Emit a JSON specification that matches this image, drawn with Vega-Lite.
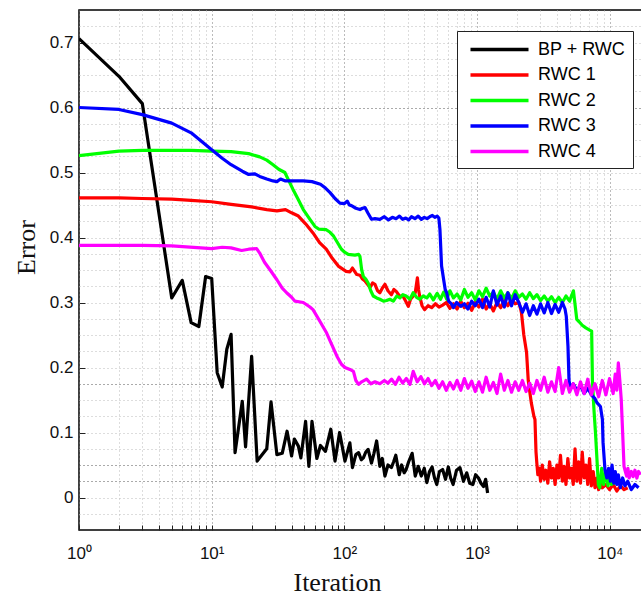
{
"$schema":"https://vega.github.io/schema/vega-lite/v6.json",
"width":563,"height":520,
"autosize":{"type":"none"},
"padding":{"left":79,"top":10,"right":0,"bottom":73},
"background":"white",
"config":{"view":{"stroke":"black","strokeWidth":1.5}},
"data":{"values":[
{"s":"BP + RWC","x":1,"y":0.706},{"s":"BP + RWC","x":2,"y":0.648},{"s":"BP + RWC","x":3,"y":0.606},{"s":"BP + RWC","x":5,"y":0.307},{"s":"BP + RWC","x":6,"y":0.334},{"s":"BP + RWC","x":7,"y":0.269},{"s":"BP + RWC","x":8,"y":0.263},{"s":"BP + RWC","x":9,"y":0.34},{"s":"BP + RWC","x":10,"y":0.337},{"s":"BP + RWC","x":11,"y":0.192},{"s":"BP + RWC","x":12,"y":0.17},{"s":"BP + RWC","x":13,"y":0.228},{"s":"BP + RWC","x":14,"y":0.251},{"s":"BP + RWC","x":15,"y":0.069},{"s":"BP + RWC","x":17,"y":0.148},{"s":"BP + RWC","x":18,"y":0.078},{"s":"BP + RWC","x":20,"y":0.217},{"s":"BP + RWC","x":22,"y":0.056},{"s":"BP + RWC","x":26,"y":0.075},{"s":"BP + RWC","x":28,"y":0.147},{"s":"BP + RWC","x":31,"y":0.066},{"s":"BP + RWC","x":34,"y":0.068},{"s":"BP + RWC","x":37,"y":0.102},{"s":"BP + RWC","x":40,"y":0.064},{"s":"BP + RWC","x":42,"y":0.09},{"s":"BP + RWC","x":45,"y":0.079},{"s":"BP + RWC","x":47,"y":0.061},{"s":"BP + RWC","x":51,"y":0.117},{"s":"BP + RWC","x":54,"y":0.048},{"s":"BP + RWC","x":57,"y":0.117},{"s":"BP + RWC","x":62,"y":0.06},{"s":"BP + RWC","x":66,"y":0.08},{"s":"BP + RWC","x":72,"y":0.071},{"s":"BP + RWC","x":79,"y":0.105},{"s":"BP + RWC","x":85,"y":0.056},{"s":"BP + RWC","x":92,"y":0.1},{"s":"BP + RWC","x":101,"y":0.056},{"s":"BP + RWC","x":110,"y":0.084},{"s":"BP + RWC","x":115,"y":0.046},{"s":"BP + RWC","x":122,"y":0.066},{"s":"BP + RWC","x":128,"y":0.069},{"s":"BP + RWC","x":134,"y":0.058},{"s":"BP + RWC","x":139,"y":0.061},{"s":"BP + RWC","x":145,"y":0.07},{"s":"BP + RWC","x":151,"y":0.074},{"s":"BP + RWC","x":160,"y":0.053},{"s":"BP + RWC","x":167,"y":0.068},{"s":"BP + RWC","x":175,"y":0.087},{"s":"BP + RWC","x":185,"y":0.048},{"s":"BP + RWC","x":193,"y":0.06},{"s":"BP + RWC","x":202,"y":0.033},{"s":"BP + RWC","x":213,"y":0.05},{"s":"BP + RWC","x":226,"y":0.046},{"s":"BP + RWC","x":235,"y":0.055},{"s":"BP + RWC","x":244,"y":0.065},{"s":"BP + RWC","x":259,"y":0.035},{"s":"BP + RWC","x":270,"y":0.05},{"s":"BP + RWC","x":282,"y":0.038},{"s":"BP + RWC","x":292,"y":0.043},{"s":"BP + RWC","x":305,"y":0.055},{"s":"BP + RWC","x":324,"y":0.068},{"s":"BP + RWC","x":342,"y":0.033},{"s":"BP + RWC","x":360,"y":0.048},{"s":"BP + RWC","x":380,"y":0.033},{"s":"BP + RWC","x":400,"y":0.045},{"s":"BP + RWC","x":418,"y":0.023},{"s":"BP + RWC","x":438,"y":0.04},{"s":"BP + RWC","x":458,"y":0.047},{"s":"BP + RWC","x":478,"y":0.03},{"s":"BP + RWC","x":497,"y":0.02},{"s":"BP + RWC","x":520,"y":0.04},{"s":"BP + RWC","x":550,"y":0.043},{"s":"BP + RWC","x":578,"y":0.028},{"s":"BP + RWC","x":607,"y":0.047},{"s":"BP + RWC","x":632,"y":0.03},{"s":"BP + RWC","x":660,"y":0.02},{"s":"BP + RWC","x":700,"y":0.042},{"s":"BP + RWC","x":743,"y":0.046},{"s":"BP + RWC","x":790,"y":0.025},{"s":"BP + RWC","x":835,"y":0.038},{"s":"BP + RWC","x":880,"y":0.022},{"s":"BP + RWC","x":930,"y":0.02},{"s":"BP + RWC","x":975,"y":0.035},{"s":"BP + RWC","x":1025,"y":0.03},{"s":"BP + RWC","x":1070,"y":0.022},{"s":"BP + RWC","x":1118,"y":0.017},{"s":"BP + RWC","x":1160,"y":0.028},{"s":"BP + RWC","x":1200,"y":0.007},
{"s":"RWC 1","x":1,"y":0.461},{"s":"RWC 1","x":2,"y":0.461},{"s":"RWC 1","x":3,"y":0.46},{"s":"RWC 1","x":5,"y":0.459},{"s":"RWC 1","x":7,"y":0.457},{"s":"RWC 1","x":10,"y":0.455},{"s":"RWC 1","x":14,"y":0.451},{"s":"RWC 1","x":20,"y":0.447},{"s":"RWC 1","x":26,"y":0.443},{"s":"RWC 1","x":31,"y":0.441},{"s":"RWC 1","x":36,"y":0.443},{"s":"RWC 1","x":40,"y":0.438},{"s":"RWC 1","x":45,"y":0.433},{"s":"RWC 1","x":51,"y":0.421},{"s":"RWC 1","x":58,"y":0.407},{"s":"RWC 1","x":65,"y":0.392},{"s":"RWC 1","x":73,"y":0.382},{"s":"RWC 1","x":81,"y":0.368},{"s":"RWC 1","x":90,"y":0.356},{"s":"RWC 1","x":103,"y":0.348},{"s":"RWC 1","x":110,"y":0.347},{"s":"RWC 1","x":115,"y":0.353},{"s":"RWC 1","x":124,"y":0.343},{"s":"RWC 1","x":131,"y":0.342},{"s":"RWC 1","x":137,"y":0.336},{"s":"RWC 1","x":143,"y":0.333},{"s":"RWC 1","x":156,"y":0.323},{"s":"RWC 1","x":163,"y":0.33},{"s":"RWC 1","x":170,"y":0.328},{"s":"RWC 1","x":178,"y":0.318},{"s":"RWC 1","x":185,"y":0.315},{"s":"RWC 1","x":193,"y":0.322},{"s":"RWC 1","x":202,"y":0.328},{"s":"RWC 1","x":213,"y":0.318},{"s":"RWC 1","x":226,"y":0.312},{"s":"RWC 1","x":236,"y":0.32},{"s":"RWC 1","x":246,"y":0.317},{"s":"RWC 1","x":260,"y":0.31},{"s":"RWC 1","x":276,"y":0.31},{"s":"RWC 1","x":290,"y":0.302},{"s":"RWC 1","x":303,"y":0.294},{"s":"RWC 1","x":315,"y":0.305},{"s":"RWC 1","x":330,"y":0.31},{"s":"RWC 1","x":342,"y":0.315},{"s":"RWC 1","x":355,"y":0.338},{"s":"RWC 1","x":362,"y":0.32},{"s":"RWC 1","x":369,"y":0.31},{"s":"RWC 1","x":385,"y":0.295},{"s":"RWC 1","x":402,"y":0.289},{"s":"RWC 1","x":427,"y":0.295},{"s":"RWC 1","x":455,"y":0.292},{"s":"RWC 1","x":485,"y":0.298},{"s":"RWC 1","x":516,"y":0.293},{"s":"RWC 1","x":550,"y":0.296},{"s":"RWC 1","x":586,"y":0.3},{"s":"RWC 1","x":624,"y":0.291},{"s":"RWC 1","x":664,"y":0.298},{"s":"RWC 1","x":707,"y":0.29},{"s":"RWC 1","x":753,"y":0.302},{"s":"RWC 1","x":802,"y":0.292},{"s":"RWC 1","x":854,"y":0.299},{"s":"RWC 1","x":910,"y":0.288},{"s":"RWC 1","x":969,"y":0.3},{"s":"RWC 1","x":1032,"y":0.293},{"s":"RWC 1","x":1099,"y":0.305},{"s":"RWC 1","x":1170,"y":0.29},{"s":"RWC 1","x":1246,"y":0.298},{"s":"RWC 1","x":1327,"y":0.287},{"s":"RWC 1","x":1413,"y":0.3},{"s":"RWC 1","x":1505,"y":0.292},{"s":"RWC 1","x":1603,"y":0.303},{"s":"RWC 1","x":1707,"y":0.295},{"s":"RWC 1","x":1818,"y":0.305},{"s":"RWC 1","x":1936,"y":0.298},{"s":"RWC 1","x":2062,"y":0.3},{"s":"RWC 1","x":2130,"y":0.29},{"s":"RWC 1","x":2160,"y":0.284},{"s":"RWC 1","x":2250,"y":0.25},{"s":"RWC 1","x":2360,"y":0.223},{"s":"RWC 1","x":2430,"y":0.18},{"s":"RWC 1","x":2560,"y":0.146},{"s":"RWC 1","x":2680,"y":0.125},{"s":"RWC 1","x":2730,"y":0.12},{"s":"RWC 1","x":2780,"y":0.07},{"s":"RWC 1","x":2820,"y":0.053},{"s":"RWC 1","x":2870,"y":0.035},{"s":"RWC 1","x":2950,"y":0.045},{"s":"RWC 1","x":3009,"y":0.025},{"s":"RWC 1","x":3100,"y":0.05},{"s":"RWC 1","x":3204,"y":0.028},{"s":"RWC 1","x":3300,"y":0.042},{"s":"RWC 1","x":3413,"y":0.022},{"s":"RWC 1","x":3520,"y":0.055},{"s":"RWC 1","x":3635,"y":0.03},{"s":"RWC 1","x":3750,"y":0.045},{"s":"RWC 1","x":3871,"y":0.02},{"s":"RWC 1","x":4000,"y":0.05},{"s":"RWC 1","x":4123,"y":0.03},{"s":"RWC 1","x":4250,"y":0.065},{"s":"RWC 1","x":4391,"y":0.025},{"s":"RWC 1","x":4530,"y":0.048},{"s":"RWC 1","x":4676,"y":0.02},{"s":"RWC 1","x":4830,"y":0.06},{"s":"RWC 1","x":4980,"y":0.03},{"s":"RWC 1","x":5140,"y":0.045},{"s":"RWC 1","x":5304,"y":0.02},{"s":"RWC 1","x":5470,"y":0.075},{"s":"RWC 1","x":5649,"y":0.025},{"s":"RWC 1","x":5830,"y":0.055},{"s":"RWC 1","x":6016,"y":0.022},{"s":"RWC 1","x":6200,"y":0.07},{"s":"RWC 1","x":6407,"y":0.03},{"s":"RWC 1","x":6610,"y":0.05},{"s":"RWC 1","x":6823,"y":0.02},{"s":"RWC 1","x":7040,"y":0.06},{"s":"RWC 1","x":7267,"y":0.018},{"s":"RWC 1","x":7500,"y":0.04},{"s":"RWC 1","x":7739,"y":0.015},{"s":"RWC 1","x":8000,"y":0.03},{"s":"RWC 1","x":8242,"y":0.012},{"s":"RWC 1","x":8500,"y":0.025},{"s":"RWC 1","x":8778,"y":0.015},{"s":"RWC 1","x":9349,"y":0.02},{"s":"RWC 1","x":9957,"y":0.012},{"s":"RWC 1","x":10604,"y":0.02},{"s":"RWC 1","x":11293,"y":0.01},{"s":"RWC 1","x":12027,"y":0.018},{"s":"RWC 1","x":12809,"y":0.012},{"s":"RWC 1","x":13642,"y":0.015},
{"s":"RWC 2","x":1,"y":0.526},{"s":"RWC 2","x":2,"y":0.533},{"s":"RWC 2","x":3,"y":0.534},{"s":"RWC 2","x":5,"y":0.534},{"s":"RWC 2","x":7,"y":0.534},{"s":"RWC 2","x":10,"y":0.533},{"s":"RWC 2","x":14,"y":0.532},{"s":"RWC 2","x":19,"y":0.529},{"s":"RWC 2","x":23,"y":0.524},{"s":"RWC 2","x":26,"y":0.519},{"s":"RWC 2","x":29,"y":0.512},{"s":"RWC 2","x":32,"y":0.505},{"s":"RWC 2","x":35.6,"y":0.5},{"s":"RWC 2","x":41,"y":0.474},{"s":"RWC 2","x":45,"y":0.458},{"s":"RWC 2","x":49,"y":0.443},{"s":"RWC 2","x":55,"y":0.428},{"s":"RWC 2","x":60,"y":0.417},{"s":"RWC 2","x":64,"y":0.413},{"s":"RWC 2","x":73,"y":0.412},{"s":"RWC 2","x":78,"y":0.408},{"s":"RWC 2","x":83,"y":0.402},{"s":"RWC 2","x":90,"y":0.39},{"s":"RWC 2","x":95,"y":0.382},{"s":"RWC 2","x":101,"y":0.377},{"s":"RWC 2","x":107,"y":0.374},{"s":"RWC 2","x":120,"y":0.373},{"s":"RWC 2","x":128,"y":0.374},{"s":"RWC 2","x":131,"y":0.371},{"s":"RWC 2","x":135,"y":0.35},{"s":"RWC 2","x":139,"y":0.34},{"s":"RWC 2","x":145,"y":0.336},{"s":"RWC 2","x":151,"y":0.33},{"s":"RWC 2","x":158,"y":0.318},{"s":"RWC 2","x":165,"y":0.31},{"s":"RWC 2","x":175,"y":0.307},{"s":"RWC 2","x":185,"y":0.305},{"s":"RWC 2","x":197,"y":0.302},{"s":"RWC 2","x":208,"y":0.303},{"s":"RWC 2","x":220,"y":0.305},{"s":"RWC 2","x":234,"y":0.302},{"s":"RWC 2","x":248,"y":0.31},{"s":"RWC 2","x":262,"y":0.307},{"s":"RWC 2","x":276,"y":0.312},{"s":"RWC 2","x":292,"y":0.31},{"s":"RWC 2","x":312,"y":0.305},{"s":"RWC 2","x":330,"y":0.315},{"s":"RWC 2","x":350,"y":0.308},{"s":"RWC 2","x":369,"y":0.305},{"s":"RWC 2","x":393,"y":0.31},{"s":"RWC 2","x":418,"y":0.307},{"s":"RWC 2","x":440,"y":0.313},{"s":"RWC 2","x":468,"y":0.304},{"s":"RWC 2","x":500,"y":0.314},{"s":"RWC 2","x":530,"y":0.305},{"s":"RWC 2","x":560,"y":0.316},{"s":"RWC 2","x":590,"y":0.305},{"s":"RWC 2","x":624,"y":0.318},{"s":"RWC 2","x":664,"y":0.307},{"s":"RWC 2","x":707,"y":0.313},{"s":"RWC 2","x":753,"y":0.304},{"s":"RWC 2","x":802,"y":0.32},{"s":"RWC 2","x":854,"y":0.308},{"s":"RWC 2","x":910,"y":0.315},{"s":"RWC 2","x":969,"y":0.304},{"s":"RWC 2","x":1032,"y":0.318},{"s":"RWC 2","x":1099,"y":0.309},{"s":"RWC 2","x":1170,"y":0.322},{"s":"RWC 2","x":1246,"y":0.31},{"s":"RWC 2","x":1327,"y":0.316},{"s":"RWC 2","x":1413,"y":0.305},{"s":"RWC 2","x":1505,"y":0.318},{"s":"RWC 2","x":1603,"y":0.307},{"s":"RWC 2","x":1707,"y":0.315},{"s":"RWC 2","x":1818,"y":0.306},{"s":"RWC 2","x":1936,"y":0.318},{"s":"RWC 2","x":2062,"y":0.308},{"s":"RWC 2","x":2196,"y":0.313},{"s":"RWC 2","x":2339,"y":0.305},{"s":"RWC 2","x":2491,"y":0.315},{"s":"RWC 2","x":2653,"y":0.306},{"s":"RWC 2","x":2825,"y":0.312},{"s":"RWC 2","x":3009,"y":0.303},{"s":"RWC 2","x":3204,"y":0.31},{"s":"RWC 2","x":3413,"y":0.302},{"s":"RWC 2","x":3635,"y":0.309},{"s":"RWC 2","x":3871,"y":0.3},{"s":"RWC 2","x":4123,"y":0.308},{"s":"RWC 2","x":4391,"y":0.3},{"s":"RWC 2","x":4676,"y":0.31},{"s":"RWC 2","x":4980,"y":0.302},{"s":"RWC 2","x":5140,"y":0.31},{"s":"RWC 2","x":5320,"y":0.318},{"s":"RWC 2","x":5450,"y":0.3},{"s":"RWC 2","x":5640,"y":0.274},{"s":"RWC 2","x":5900,"y":0.27},{"s":"RWC 2","x":6200,"y":0.265},{"s":"RWC 2","x":6600,"y":0.261},{"s":"RWC 2","x":7000,"y":0.258},{"s":"RWC 2","x":7300,"y":0.256},{"s":"RWC 2","x":7400,"y":0.18},{"s":"RWC 2","x":7600,"y":0.135},{"s":"RWC 2","x":7800,"y":0.1},{"s":"RWC 2","x":8000,"y":0.06},{"s":"RWC 2","x":8200,"y":0.02},{"s":"RWC 2","x":8400,"y":0.015},{"s":"RWC 2","x":8700,"y":0.045},{"s":"RWC 2","x":9000,"y":0.02},{"s":"RWC 2","x":9349,"y":0.04},{"s":"RWC 2","x":9700,"y":0.018},{"s":"RWC 2","x":9957,"y":0.035},{"s":"RWC 2","x":10300,"y":0.02},{"s":"RWC 2","x":10604,"y":0.03},{"s":"RWC 2","x":11000,"y":0.02},
{"s":"RWC 3","x":1,"y":0.6},{"s":"RWC 3","x":2,"y":0.597},{"s":"RWC 3","x":3,"y":0.589},{"s":"RWC 3","x":5,"y":0.576},{"s":"RWC 3","x":7,"y":0.561},{"s":"RWC 3","x":10,"y":0.535},{"s":"RWC 3","x":12,"y":0.522},{"s":"RWC 3","x":14,"y":0.512},{"s":"RWC 3","x":17,"y":0.502},{"s":"RWC 3","x":19,"y":0.497},{"s":"RWC 3","x":21,"y":0.498},{"s":"RWC 3","x":23,"y":0.494},{"s":"RWC 3","x":26,"y":0.49},{"s":"RWC 3","x":29,"y":0.487},{"s":"RWC 3","x":31,"y":0.486},{"s":"RWC 3","x":33,"y":0.49},{"s":"RWC 3","x":36,"y":0.487},{"s":"RWC 3","x":39,"y":0.487},{"s":"RWC 3","x":45,"y":0.487},{"s":"RWC 3","x":49,"y":0.487},{"s":"RWC 3","x":57,"y":0.486},{"s":"RWC 3","x":66,"y":0.482},{"s":"RWC 3","x":72,"y":0.476},{"s":"RWC 3","x":78,"y":0.469},{"s":"RWC 3","x":85,"y":0.46},{"s":"RWC 3","x":92.5,"y":0.453},{"s":"RWC 3","x":100,"y":0.452},{"s":"RWC 3","x":105,"y":0.456},{"s":"RWC 3","x":109,"y":0.45},{"s":"RWC 3","x":113,"y":0.449},{"s":"RWC 3","x":122,"y":0.445},{"s":"RWC 3","x":131,"y":0.443},{"s":"RWC 3","x":137,"y":0.445},{"s":"RWC 3","x":143,"y":0.446},{"s":"RWC 3","x":150,"y":0.438},{"s":"RWC 3","x":160,"y":0.428},{"s":"RWC 3","x":170,"y":0.429},{"s":"RWC 3","x":185,"y":0.428},{"s":"RWC 3","x":200,"y":0.432},{"s":"RWC 3","x":215,"y":0.427},{"s":"RWC 3","x":230,"y":0.431},{"s":"RWC 3","x":245,"y":0.429},{"s":"RWC 3","x":260,"y":0.433},{"s":"RWC 3","x":275,"y":0.428},{"s":"RWC 3","x":290,"y":0.43},{"s":"RWC 3","x":305,"y":0.427},{"s":"RWC 3","x":320,"y":0.432},{"s":"RWC 3","x":340,"y":0.429},{"s":"RWC 3","x":360,"y":0.433},{"s":"RWC 3","x":380,"y":0.428},{"s":"RWC 3","x":400,"y":0.431},{"s":"RWC 3","x":420,"y":0.429},{"s":"RWC 3","x":440,"y":0.432},{"s":"RWC 3","x":460,"y":0.434},{"s":"RWC 3","x":480,"y":0.431},{"s":"RWC 3","x":500,"y":0.433},{"s":"RWC 3","x":515,"y":0.43},{"s":"RWC 3","x":525,"y":0.412},{"s":"RWC 3","x":540,"y":0.356},{"s":"RWC 3","x":560,"y":0.335},{"s":"RWC 3","x":575,"y":0.32},{"s":"RWC 3","x":590,"y":0.315},{"s":"RWC 3","x":610,"y":0.302},{"s":"RWC 3","x":640,"y":0.298},{"s":"RWC 3","x":664,"y":0.292},{"s":"RWC 3","x":700,"y":0.3},{"s":"RWC 3","x":753,"y":0.294},{"s":"RWC 3","x":802,"y":0.298},{"s":"RWC 3","x":854,"y":0.29},{"s":"RWC 3","x":910,"y":0.302},{"s":"RWC 3","x":969,"y":0.295},{"s":"RWC 3","x":1032,"y":0.305},{"s":"RWC 3","x":1099,"y":0.292},{"s":"RWC 3","x":1170,"y":0.308},{"s":"RWC 3","x":1246,"y":0.293},{"s":"RWC 3","x":1327,"y":0.318},{"s":"RWC 3","x":1413,"y":0.296},{"s":"RWC 3","x":1505,"y":0.31},{"s":"RWC 3","x":1603,"y":0.293},{"s":"RWC 3","x":1707,"y":0.315},{"s":"RWC 3","x":1818,"y":0.295},{"s":"RWC 3","x":1936,"y":0.312},{"s":"RWC 3","x":2062,"y":0.3},{"s":"RWC 3","x":2196,"y":0.285},{"s":"RWC 3","x":2339,"y":0.298},{"s":"RWC 3","x":2491,"y":0.28},{"s":"RWC 3","x":2653,"y":0.295},{"s":"RWC 3","x":2825,"y":0.282},{"s":"RWC 3","x":3009,"y":0.298},{"s":"RWC 3","x":3204,"y":0.284},{"s":"RWC 3","x":3413,"y":0.3},{"s":"RWC 3","x":3635,"y":0.283},{"s":"RWC 3","x":3871,"y":0.297},{"s":"RWC 3","x":4123,"y":0.285},{"s":"RWC 3","x":4391,"y":0.3},{"s":"RWC 3","x":4600,"y":0.29},{"s":"RWC 3","x":4700,"y":0.279},{"s":"RWC 3","x":4840,"y":0.233},{"s":"RWC 3","x":4930,"y":0.18},{"s":"RWC 3","x":5050,"y":0.168},{"s":"RWC 3","x":5304,"y":0.175},{"s":"RWC 3","x":5649,"y":0.165},{"s":"RWC 3","x":6016,"y":0.172},{"s":"RWC 3","x":6407,"y":0.16},{"s":"RWC 3","x":6823,"y":0.168},{"s":"RWC 3","x":7267,"y":0.158},{"s":"RWC 3","x":7739,"y":0.152},{"s":"RWC 3","x":8000,"y":0.146},{"s":"RWC 3","x":8500,"y":0.14},{"s":"RWC 3","x":8800,"y":0.12},{"s":"RWC 3","x":8900,"y":0.084},{"s":"RWC 3","x":9200,"y":0.043},{"s":"RWC 3","x":9500,"y":0.03},{"s":"RWC 3","x":9800,"y":0.045},{"s":"RWC 3","x":10100,"y":0.025},{"s":"RWC 3","x":10400,"y":0.05},{"s":"RWC 3","x":10700,"y":0.022},{"s":"RWC 3","x":11000,"y":0.04},{"s":"RWC 3","x":11300,"y":0.02},{"s":"RWC 3","x":11600,"y":0.035},{"s":"RWC 3","x":12000,"y":0.015},{"s":"RWC 3","x":12500,"y":0.03},{"s":"RWC 3","x":13000,"y":0.018},{"s":"RWC 3","x":13642,"y":0.025},{"s":"RWC 3","x":14528,"y":0.012},{"s":"RWC 3","x":15473,"y":0.02},{"s":"RWC 3","x":16478,"y":0.015},
{"s":"RWC 4","x":1,"y":0.388},{"s":"RWC 4","x":3,"y":0.388},{"s":"RWC 4","x":5,"y":0.387},{"s":"RWC 4","x":10,"y":0.383},{"s":"RWC 4","x":12,"y":0.385},{"s":"RWC 4","x":14,"y":0.384},{"s":"RWC 4","x":16.8,"y":0.38},{"s":"RWC 4","x":19,"y":0.382},{"s":"RWC 4","x":21.8,"y":0.383},{"s":"RWC 4","x":23,"y":0.376},{"s":"RWC 4","x":25,"y":0.362},{"s":"RWC 4","x":28,"y":0.348},{"s":"RWC 4","x":31,"y":0.335},{"s":"RWC 4","x":34,"y":0.322},{"s":"RWC 4","x":36.7,"y":0.315},{"s":"RWC 4","x":40,"y":0.308},{"s":"RWC 4","x":42.4,"y":0.302},{"s":"RWC 4","x":49,"y":0.3},{"s":"RWC 4","x":55,"y":0.293},{"s":"RWC 4","x":58,"y":0.289},{"s":"RWC 4","x":65,"y":0.272},{"s":"RWC 4","x":73.5,"y":0.253},{"s":"RWC 4","x":80,"y":0.236},{"s":"RWC 4","x":88,"y":0.217},{"s":"RWC 4","x":95,"y":0.205},{"s":"RWC 4","x":101,"y":0.2},{"s":"RWC 4","x":110,"y":0.197},{"s":"RWC 4","x":117,"y":0.194},{"s":"RWC 4","x":122,"y":0.18},{"s":"RWC 4","x":128,"y":0.174},{"s":"RWC 4","x":135,"y":0.178},{"s":"RWC 4","x":147,"y":0.182},{"s":"RWC 4","x":158,"y":0.175},{"s":"RWC 4","x":170,"y":0.178},{"s":"RWC 4","x":185,"y":0.175},{"s":"RWC 4","x":200,"y":0.18},{"s":"RWC 4","x":213,"y":0.176},{"s":"RWC 4","x":227,"y":0.182},{"s":"RWC 4","x":242,"y":0.174},{"s":"RWC 4","x":258,"y":0.185},{"s":"RWC 4","x":275,"y":0.176},{"s":"RWC 4","x":293,"y":0.183},{"s":"RWC 4","x":312,"y":0.174},{"s":"RWC 4","x":330,"y":0.194},{"s":"RWC 4","x":354,"y":0.178},{"s":"RWC 4","x":377,"y":0.186},{"s":"RWC 4","x":401,"y":0.175},{"s":"RWC 4","x":427,"y":0.183},{"s":"RWC 4","x":455,"y":0.172},{"s":"RWC 4","x":485,"y":0.18},{"s":"RWC 4","x":516,"y":0.168},{"s":"RWC 4","x":550,"y":0.178},{"s":"RWC 4","x":586,"y":0.165},{"s":"RWC 4","x":624,"y":0.177},{"s":"RWC 4","x":664,"y":0.167},{"s":"RWC 4","x":707,"y":0.18},{"s":"RWC 4","x":753,"y":0.165},{"s":"RWC 4","x":802,"y":0.183},{"s":"RWC 4","x":854,"y":0.168},{"s":"RWC 4","x":910,"y":0.179},{"s":"RWC 4","x":969,"y":0.163},{"s":"RWC 4","x":1032,"y":0.178},{"s":"RWC 4","x":1099,"y":0.162},{"s":"RWC 4","x":1170,"y":0.185},{"s":"RWC 4","x":1246,"y":0.165},{"s":"RWC 4","x":1327,"y":0.177},{"s":"RWC 4","x":1413,"y":0.16},{"s":"RWC 4","x":1505,"y":0.19},{"s":"RWC 4","x":1603,"y":0.165},{"s":"RWC 4","x":1707,"y":0.18},{"s":"RWC 4","x":1818,"y":0.162},{"s":"RWC 4","x":1936,"y":0.178},{"s":"RWC 4","x":2062,"y":0.165},{"s":"RWC 4","x":2196,"y":0.18},{"s":"RWC 4","x":2339,"y":0.163},{"s":"RWC 4","x":2491,"y":0.176},{"s":"RWC 4","x":2653,"y":0.16},{"s":"RWC 4","x":2825,"y":0.18},{"s":"RWC 4","x":3009,"y":0.165},{"s":"RWC 4","x":3204,"y":0.185},{"s":"RWC 4","x":3413,"y":0.162},{"s":"RWC 4","x":3635,"y":0.178},{"s":"RWC 4","x":3871,"y":0.163},{"s":"RWC 4","x":4123,"y":0.2},{"s":"RWC 4","x":4391,"y":0.16},{"s":"RWC 4","x":4676,"y":0.18},{"s":"RWC 4","x":4980,"y":0.162},{"s":"RWC 4","x":5304,"y":0.175},{"s":"RWC 4","x":5649,"y":0.158},{"s":"RWC 4","x":6016,"y":0.178},{"s":"RWC 4","x":6407,"y":0.16},{"s":"RWC 4","x":6823,"y":0.182},{"s":"RWC 4","x":7267,"y":0.158},{"s":"RWC 4","x":7739,"y":0.175},{"s":"RWC 4","x":8242,"y":0.155},{"s":"RWC 4","x":8778,"y":0.18},{"s":"RWC 4","x":9349,"y":0.158},{"s":"RWC 4","x":9957,"y":0.183},{"s":"RWC 4","x":10604,"y":0.16},{"s":"RWC 4","x":11000,"y":0.19},{"s":"RWC 4","x":11300,"y":0.165},{"s":"RWC 4","x":11600,"y":0.207},{"s":"RWC 4","x":11900,"y":0.18},{"s":"RWC 4","x":12200,"y":0.151},{"s":"RWC 4","x":12500,"y":0.1},{"s":"RWC 4","x":12800,"y":0.048},{"s":"RWC 4","x":13100,"y":0.04},{"s":"RWC 4","x":13400,"y":0.033},{"s":"RWC 4","x":13700,"y":0.045},{"s":"RWC 4","x":14000,"y":0.03},{"s":"RWC 4","x":14528,"y":0.04},{"s":"RWC 4","x":15000,"y":0.032},{"s":"RWC 4","x":15473,"y":0.042},{"s":"RWC 4","x":16000,"y":0.03},{"s":"RWC 4","x":16478,"y":0.04},{"s":"RWC 4","x":17000,"y":0.035}
]},
"mark":{"type":"line","strokeWidth":3.2,"clip":true,"strokeJoin":"round"},
"encoding":{
"x":{"field":"x","type":"quantitative","title":"Iteration",
"scale":{"type":"log","domain":[1,17490],"nice":false},
"axis":{"values":[1,2,3,4,5,6,7,8,9,10,20,30,40,50,60,70,80,90,100,200,300,400,500,600,700,800,900,1000,2000,3000,4000,5000,6000,7000,8000,9000,10000],
"labelExpr":"datum.value==1?'10⁰':datum.value==10?'10¹':datum.value==100?'10²':datum.value==1000?'10³':datum.value==10000?'10⁴':''",
"labelFont":"Liberation Sans","labelFontSize":17,"labelColor":"#111","labelPadding":20,"labelFlush":false,"labelOverlap":false,
"domain":false,"ticks":true,"tickSize":-5,"tickColor":"#222",
"grid":true,"gridDash":[1,3],"gridColor":{"condition":{"test":"abs(log(datum.value)/LN10-round(log(datum.value)/LN10))<0.000001","value":"#777"},"value":"#bbb"},
"titleFont":"Liberation Serif","titleFontSize":26,"titleFontWeight":"normal","titleColor":"#111","titlePadding":8,"titleX":258,"titleAlign":"center"}},
"y":{"field":"y","type":"quantitative","title":"Error",
"scale":{"domain":[-0.05,0.75],"nice":false,"zero":false},
"axis":{"values":[-0.025,0,0.025,0.05,0.075,0.1,0.125,0.15,0.175,0.2,0.225,0.25,0.275,0.3,0.325,0.35,0.375,0.4,0.425,0.45,0.475,0.5,0.525,0.55,0.575,0.6,0.625,0.65,0.675,0.7,0.725],
"labelExpr":"abs(datum.value*10-round(datum.value*10))<0.000001 && datum.value>=0 ? format(datum.value,'.1~f') : ''",
"labelFont":"Liberation Sans","labelFontSize":17,"labelColor":"#111","labelPadding":12,"labelOverlap":false,
"domain":false,"ticks":true,"tickSize":-6,"tickColor":"#222",
"tickOpacity":{"condition":{"test":"abs(datum.value*10-round(datum.value*10))<0.000001","value":1},"value":0},
"grid":true,"gridDash":[1,3],"gridColor":{"condition":{"test":"abs(datum.value-0.6)<0.001||abs(datum.value-0.05)<0.001||abs(datum.value-0.025)<0.001||abs(datum.value-0.175)<0.001","value":"#555"},"value":"#bbb"},
"titleFont":"Liberation Serif","titleFontSize":26,"titleFontWeight":"normal","titleColor":"#111","titlePadding":10,"titleY":237,"titleAlign":"center"}},
"color":{"field":"s","type":"nominal","title":null,
"scale":{"domain":["BP + RWC","RWC 1","RWC 2","RWC 3","RWC 4"],"range":["#000000","#ff0000","#00ff00","#0000ff","#ff00ff"]},
"legend":{"orient":"none","legendX":378,"legendY":21,"fillColor":"white","strokeColor":"#222","padding":7,
"symbolType":"M-3,0H3","symbolSize":374,"symbolStrokeWidth":3.5,"labelFont":"Liberation Sans","labelFontSize":18,"labelColor":"#000","rowPadding":4.5,"labelOffset":27,"symbolOffset":24}},
"order":{"field":"x","type":"quantitative"}
}
}
